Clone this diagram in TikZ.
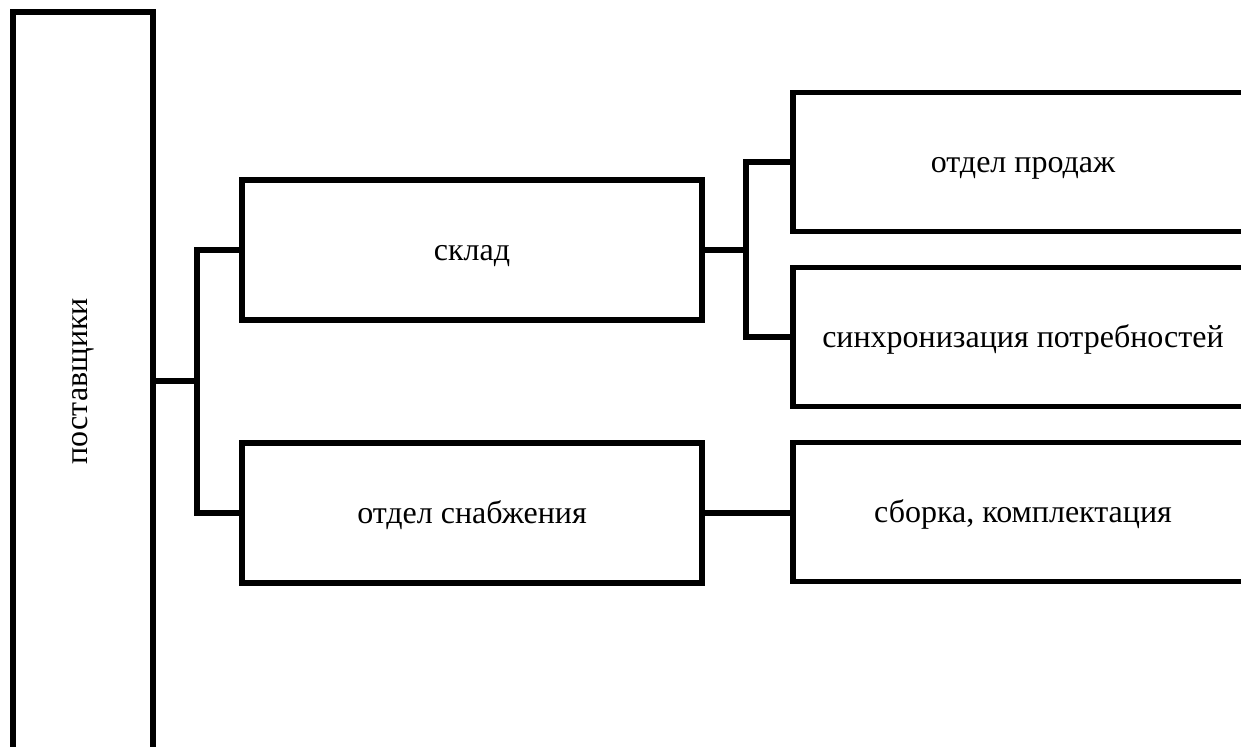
\documentclass[tikz,border=0pt]{standalone}
\usepackage{fontspec}
\setmainfont{Liberation Serif}
\usepackage{tikz}

\begin{document}
\begin{tikzpicture}[x=0.5pt,y=-0.5pt,line width=2.6pt,
    every node/.style={draw=black,rectangle,line width=2.6pt,inner sep=0pt,
      font=\fontsize{16}{19}\selectfont},
    unit/.style={minimum width=230pt,minimum height=70pt,text height=11pt,text depth=0pt},
    dept/.style={minimum width=230pt,minimum height=69.5pt,text height=11pt,text depth=0pt}]
  \clip (0,0) rectangle (1241,747);
  \node[minimum width=70pt,minimum height=369pt] (postav) at (83,381) {\rotatebox{90}{поставщики}};
  \node[unit] (sklad) at (472,250) {склад};
  \node[unit] (snab) at (472,513) {отдел снабжения};
  \node[dept] (prodazh) at (1023,162) {отдел продаж};
  \node[dept] (sinhr) at (1023,337) {синхронизация потребностей};
  \node[dept] (sborka) at (1023,512) {сборка, комплектация};
  % branch points
  \coordinate (j1) at (197,381);
  \coordinate (j2) at (746,250);
  \draw (postav.east |- j1) -- (j1);
  \draw (sklad.west) -| (j1) |- (snab.west);
  \draw (sklad.east) -- (j2);
  \draw (prodazh.west) -| (j2) |- (sinhr.west);
  \draw (snab.east) -- (sborka.west |- snab.east);
\end{tikzpicture}
\end{document}
